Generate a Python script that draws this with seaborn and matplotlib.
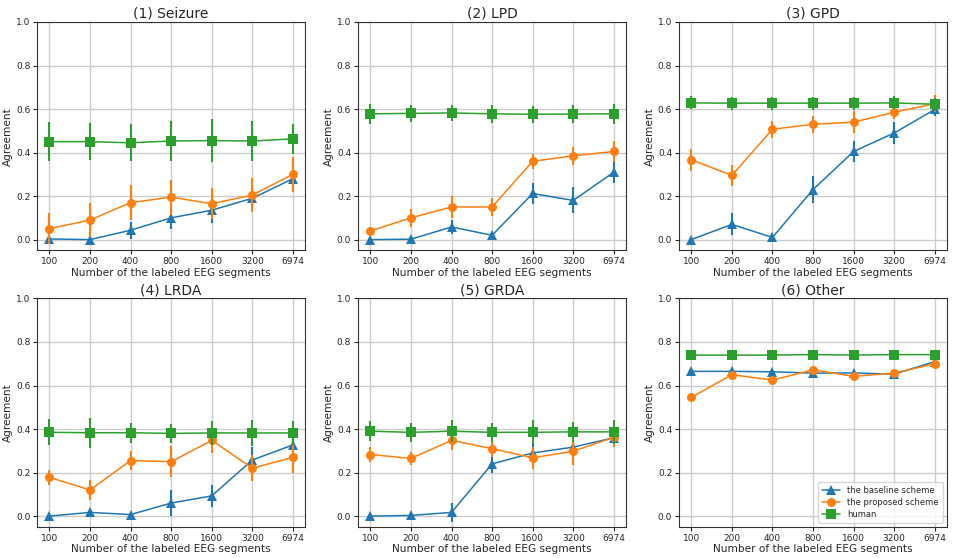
import numpy as np
import pandas as pd
import matplotlib
matplotlib.use("Agg")
import matplotlib.pyplot as plt
import seaborn as sns

sizes = ["100", "200", "400", "800", "1600", "3200", "6974"]
titles = ["(1) Seizure", "(2) LPD", "(3) GPD", "(4) LRDA", "(5) GRDA", "(6) Other"]
series_names = ["the baseline scheme", "the proposed scheme", "human"]

# mean agreement per panel
baseline = [
    [0.003, 0.0, 0.043, 0.10, 0.135, 0.19, 0.28],
    [0.0, 0.002, 0.058, 0.02, 0.212, 0.18, 0.31],
    [0.0, 0.07, 0.01, 0.23, 0.405, 0.49, 0.598],
    [0.0, 0.017, 0.007, 0.06, 0.093, 0.258, 0.327],
    [0.0, 0.003, 0.017, 0.24, 0.29, 0.317, 0.36],
    [0.665, 0.665, 0.663, 0.657, 0.658, 0.652, 0.71],
]
proposed = [
    [0.05, 0.09, 0.17, 0.195, 0.165, 0.205, 0.30],
    [0.04, 0.10, 0.15, 0.15, 0.36, 0.385, 0.405],
    [0.367, 0.295, 0.507, 0.53, 0.54, 0.585, 0.625],
    [0.178, 0.12, 0.255, 0.25, 0.348, 0.22, 0.27],
    [0.283, 0.265, 0.348, 0.31, 0.268, 0.298, 0.362],
    [0.545, 0.65, 0.625, 0.672, 0.642, 0.657, 0.70],
]
human = [
    [0.45, 0.45, 0.445, 0.453, 0.455, 0.453, 0.463],
    [0.578, 0.58, 0.582, 0.578, 0.576, 0.577, 0.578],
    [0.628, 0.627, 0.627, 0.627, 0.627, 0.628, 0.622],
    [0.385, 0.383, 0.383, 0.38, 0.382, 0.382, 0.382],
    [0.39, 0.385, 0.39, 0.385, 0.385, 0.387, 0.387],
    [0.74, 0.74, 0.74, 0.742, 0.74, 0.742, 0.742],
]

# half-width of the error bars
baseline_err = [
    [0.01, 0.01, 0.04, 0.05, 0.06, 0.05, 0.06],
    [0.005, 0.005, 0.03, 0.01, 0.05, 0.06, 0.05],
    [0.005, 0.05, 0.02, 0.06, 0.05, 0.05, 0.03],
    [0.005, 0.01, 0.005, 0.06, 0.05, 0.06, 0.03],
    [0.005, 0.005, 0.045, 0.04, 0.04, 0.02, 0.02],
    [0.01, 0.01, 0.01, 0.01, 0.01, 0.01, 0.01],
]
proposed_err = [
    [0.07, 0.08, 0.08, 0.08, 0.07, 0.08, 0.08],
    [0.015, 0.04, 0.05, 0.04, 0.035, 0.04, 0.05],
    [0.05, 0.05, 0.04, 0.04, 0.05, 0.03, 0.04],
    [0.035, 0.045, 0.045, 0.07, 0.06, 0.06, 0.07],
    [0.035, 0.03, 0.045, 0.04, 0.05, 0.065, 0.045],
    [0.01, 0.01, 0.01, 0.01, 0.01, 0.01, 0.01],
]
human_err = [
    [0.09, 0.085, 0.085, 0.09, 0.1, 0.09, 0.07],
    [0.045, 0.04, 0.035, 0.04, 0.04, 0.04, 0.045],
    [0.03, 0.03, 0.03, 0.03, 0.03, 0.03, 0.03],
    [0.06, 0.068, 0.045, 0.045, 0.055, 0.06, 0.055],
    [0.045, 0.045, 0.05, 0.045, 0.055, 0.045, 0.055],
    [0.01, 0.01, 0.01, 0.01, 0.01, 0.01, 0.01],
]

colors = ["#1f77b4", "#ff7f0e", "#2ca02c"]
markers = ["^", "o", "s"]

sns.set_theme(style="ticks", rc={
    "axes.grid": True,
    "grid.color": "#cccccc",
    "grid.linewidth": 1.0,
    "axes.edgecolor": "#333333",
    "axes.linewidth": 0.8,
})
plt.rcParams["font.family"] = ["DejaVu Sans"]

fig, axes = plt.subplots(2, 3, figsize=(9.55, 5.58), dpi=100)
fig.subplots_adjust(left=0.039, right=0.9916, top=0.9606, bottom=0.0556,
                    wspace=0.198, hspace=0.21)

pos = np.arange(len(sizes))
for i, ax in enumerate(axes.flat):
    means = [baseline[i], proposed[i], human[i]]
    errs = [baseline_err[i], proposed_err[i], human_err[i]]
    for name, m, e, c, mk in zip(series_names, means, errs, colors, markers):
        ax.errorbar(pos, m, yerr=e, fmt="none", ecolor=c, elinewidth=1.5, capsize=0)
        df = pd.DataFrame({"x": pos, "y": m})
        sns.lineplot(data=df, x="x", y="y", ax=ax, color=c, marker=mk,
                     markersize=6.5, markeredgewidth=0, linewidth=1.1, label=name)
    ax.set_xlim(-0.3, 6.3)
    ax.set_ylim(-0.05, 1.0)
    ax.set_xticks(pos)
    ax.set_xticklabels(sizes)
    ax.set_yticks(np.arange(0, 1.01, 0.2))
    ax.set_yticklabels([f"{v:.1f}" for v in np.arange(0, 1.01, 0.2)])
    ax.tick_params(labelsize=6.5, length=3, width=0.8, pad=2)
    ax.set_title(titles[i], fontsize=10, pad=3)
    ax.set_xlabel("Number of the labeled EEG segments", fontsize=7.6, labelpad=1)
    ax.set_ylabel("Agreement", fontsize=7.6, labelpad=2)
    for s in ax.spines.values():
        s.set_visible(True)
    if i < 5:
        ax.get_legend().remove()
    else:
        ax.legend(loc="lower right", fontsize=6.0, frameon=True, framealpha=0.8,
                  edgecolor="#cccccc", handlelength=2.2, borderpad=0.5,
                  labelspacing=0.35)

fig.savefig("out.png", dpi=100)
